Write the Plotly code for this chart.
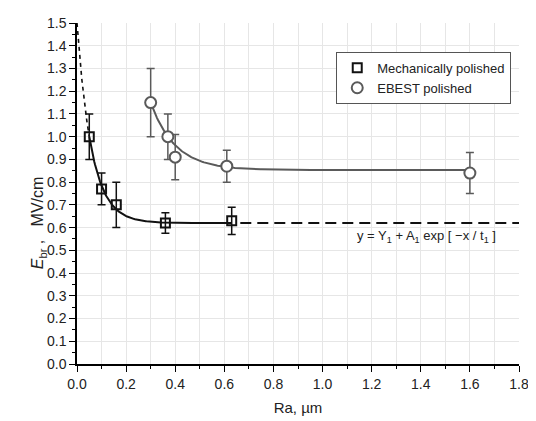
import numpy as np
import plotly.graph_objects as go

# Mechanically polished data
mech_x = [0.05, 0.10, 0.16, 0.36, 0.63]
mech_y = [1.00, 0.77, 0.70, 0.62, 0.63]
mech_err = [0.10, 0.07, 0.10, 0.045, 0.06]

# EBEST polished data
ebest_x = [0.30, 0.37, 0.40, 0.61, 1.60]
ebest_y = [1.15, 1.00, 0.91, 0.87, 0.84]
ebest_err = [0.15, 0.10, 0.10, 0.07, 0.09]

# exponential fit parameters y = Y1 + A1*exp(-x/t1)
mech_fit = dict(Y1=0.62, A1=0.88, t1=0.0596)
ebest_fit = dict(Y1=0.853, A1=0.297 * np.exp(0.30 / 0.10), t1=0.10)

x_ticks = [0.0, 0.2, 0.4, 0.6, 0.8, 1.0, 1.2, 1.4, 1.6, 1.8]
y_ticks = [round(0.1 * i, 1) for i in range(16)]


def fit(p, x):
    return p["Y1"] + p["A1"] * np.exp(-np.asarray(x) / p["t1"])


BLACK = "#111111"
GRAY = "#5a5a5a"

fig = go.Figure()

# mechanical fit: dashed extrapolations + solid part
xd1 = np.linspace(0.0, 0.05, 40)
fig.add_trace(go.Scatter(x=xd1, y=fit(mech_fit, xd1), mode="lines",
                         line=dict(color=BLACK, width=1.6, dash="4px,4px"),
                         showlegend=False, hoverinfo="skip", cliponaxis=True))
xs = np.linspace(0.05, 0.63, 200)
fig.add_trace(go.Scatter(x=xs, y=fit(mech_fit, xs), mode="lines",
                         line=dict(color=BLACK, width=2), showlegend=False, hoverinfo="skip"))
xd2 = np.linspace(0.665, 1.8, 50)
fig.add_trace(go.Scatter(x=xd2, y=fit(mech_fit, xd2), mode="lines",
                         line=dict(color=BLACK, width=2, dash="11px,6px"),
                         showlegend=False, hoverinfo="skip"))

# EBEST fit
xe = np.linspace(0.30, 1.60, 300)
fig.add_trace(go.Scatter(x=xe, y=fit(ebest_fit, xe), mode="lines",
                         line=dict(color=GRAY, width=2), showlegend=False, hoverinfo="skip"))

fig.add_trace(go.Scatter(
    x=mech_x, y=mech_y, mode="markers", name="Mechanically polished",
    marker=dict(symbol="square-open", size=9, color=BLACK, line=dict(width=2)),
    error_y=dict(type="data", array=mech_err, color=BLACK, thickness=1.5, width=4)))
fig.add_trace(go.Scatter(
    x=ebest_x, y=ebest_y, mode="markers", name="EBEST polished",
    marker=dict(symbol="circle", size=11, color="white", line=dict(width=2, color=GRAY)),
    error_y=dict(type="data", array=ebest_err, color=GRAY, thickness=1.5, width=4)))

fig.add_annotation(x=1.134, y=0.56, xref="x", yref="y", xanchor="left",
                   text="y = Y<sub>1</sub> + A<sub>1</sub> exp [ \u2212x / t<sub>1</sub> ]",
                   showarrow=False, font=dict(size=13, color="#222222"))

fig.add_annotation(x=(27 - 77) / 445, y=(369 - 222) / 354, xref="paper", yref="paper",
                   showarrow=False,
                   text="<i>E</i><sub>br</sub> ,\u00a0\u00a0\u00a0MV/cm", textangle=-90,
                   font=dict(size=16, color="#222222"))

FONT = "Liberation Sans, Arial, sans-serif"
# page body has an 8px margin, so the figure is sized to fit the window
fig.update_layout(
    width=528, height=413,
    margin=dict(l=69, r=14, t=7, b=52),
    paper_bgcolor="white", plot_bgcolor="white",
    font=dict(family=FONT, size=14, color="#222222"),
    legend=dict(x=(338 - 77) / 445, y=(369 - 45) / 354, xanchor="left", yanchor="top",
                bordercolor="#555555", borderwidth=1, bgcolor="white",
                font=dict(size=13), itemwidth=30),
    xaxis=dict(range=[0, 1.8], tickvals=x_ticks, ticktext=[f"{v:.1f}" for v in x_ticks],
               showgrid=True, gridcolor="#e6e6e6", gridwidth=1,
               minor=dict(dtick=0.1, showgrid=True, gridcolor="#e6e6e6", ticks="outside",
                          ticklen=3, tickcolor="black"),
               ticks="outside", ticklen=6, tickwidth=1.2, tickcolor="black",
               ticklabeloverflow="allow",
               showline=True, linecolor="black", linewidth=1.5, zeroline=False,
               title=dict(text="Ra, \u00b5m", font=dict(size=15), standoff=12)),
    yaxis=dict(range=[0, 1.5], tickvals=y_ticks, ticktext=[f"{v:.1f}" for v in y_ticks],
               showgrid=True, gridcolor="#e6e6e6", gridwidth=1,
               minor=dict(dtick=0.05, showgrid=False, ticks="outside", ticklen=3,
                          tickcolor="black"),
               ticks="outside", ticklen=6, tickwidth=1.2, tickcolor="black",
               ticklabeloverflow="allow",
               showline=True, linecolor="black", linewidth=1.5, zeroline=False),
)

fig.write_html("out.html")
